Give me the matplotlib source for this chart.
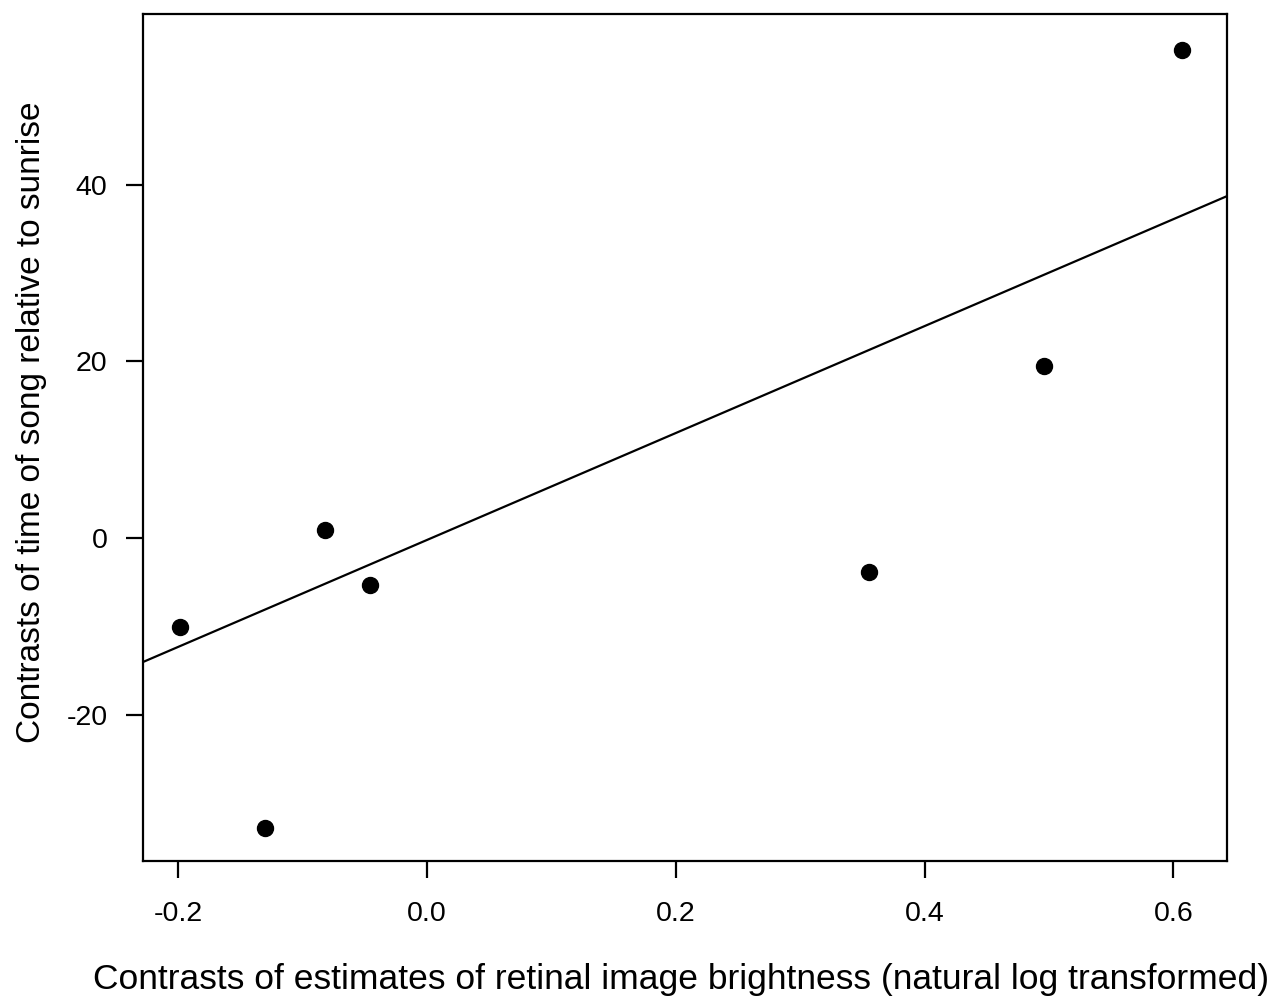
"""
Contrasts of song timing vs. retinal image brightness (scatter + fitted line).
"""

import numpy as np
import matplotlib
matplotlib.use("Agg")
import matplotlib.pyplot as plt

# --- Data --------------------------------------------------------------------
brightness = [-0.198, -0.130, -0.082, -0.046, 0.355, 0.496, 0.607]
song_time  = [-10.0, -32.8, 0.9, -5.3, -3.8, 19.5, 55.2]

fit_slope     = 60.5
fit_intercept = -0.2

x_ticks = [-0.2, 0.0, 0.2, 0.4, 0.6]
y_ticks = [-20, 0, 20, 40]

x_label = "Contrasts of estimates of retinal image brightness (natural log transformed)"
y_label = "Contrasts of time of song relative to sunrise"

# --- Plot --------------------------------------------------------------------
plt.rcParams["font.family"] = ["Liberation Sans", "DejaVu Sans"]

W, H = 1279, 999
L, R, T, B = 143, 1227, 14, 861   # axes box in pixels

fig = plt.figure(figsize=(W / 100, H / 100), dpi=100)
ax = fig.add_axes([L / W, 1 - B / H, (R - L) / W, (B - T) / H])

xlim = (-0.228, 0.643)
ylim = (-36.5, 59.3)
ax.set_xlim(*xlim)
ax.set_ylim(*ylim)

ax.plot(brightness, song_time, "o", color="black", markersize=11.5, zorder=3)

xl = np.array(xlim)
ax.plot(xl, fit_intercept + fit_slope * xl, color="black", linewidth=1.6)

ax.set_xticks(x_ticks)
ax.set_xticklabels([f"{v:.1f}" for v in x_ticks])
ax.set_yticks(y_ticks)
ax.set_yticklabels([str(v) for v in y_ticks])

ax.tick_params(direction="out", length=12.5, width=1.6, labelsize=20.5, colors="black")
ax.tick_params(axis="x", pad=16)
ax.tick_params(axis="y", pad=13)
for s in ax.spines.values():
    s.set_linewidth(1.6)

# label positions, in pixels -> axes fraction
ax.set_xlabel(x_label, fontsize=25.5, va="center")
ax.xaxis.set_label_coords((681 - L) / (R - L), (B - 980) / (B - T))
ax.set_ylabel(y_label, fontsize=24, va="center")
ax.yaxis.set_label_coords((32 - L) / (R - L), (B - 422) / (B - T))

fig.savefig("out.png", dpi=100, facecolor="white")
